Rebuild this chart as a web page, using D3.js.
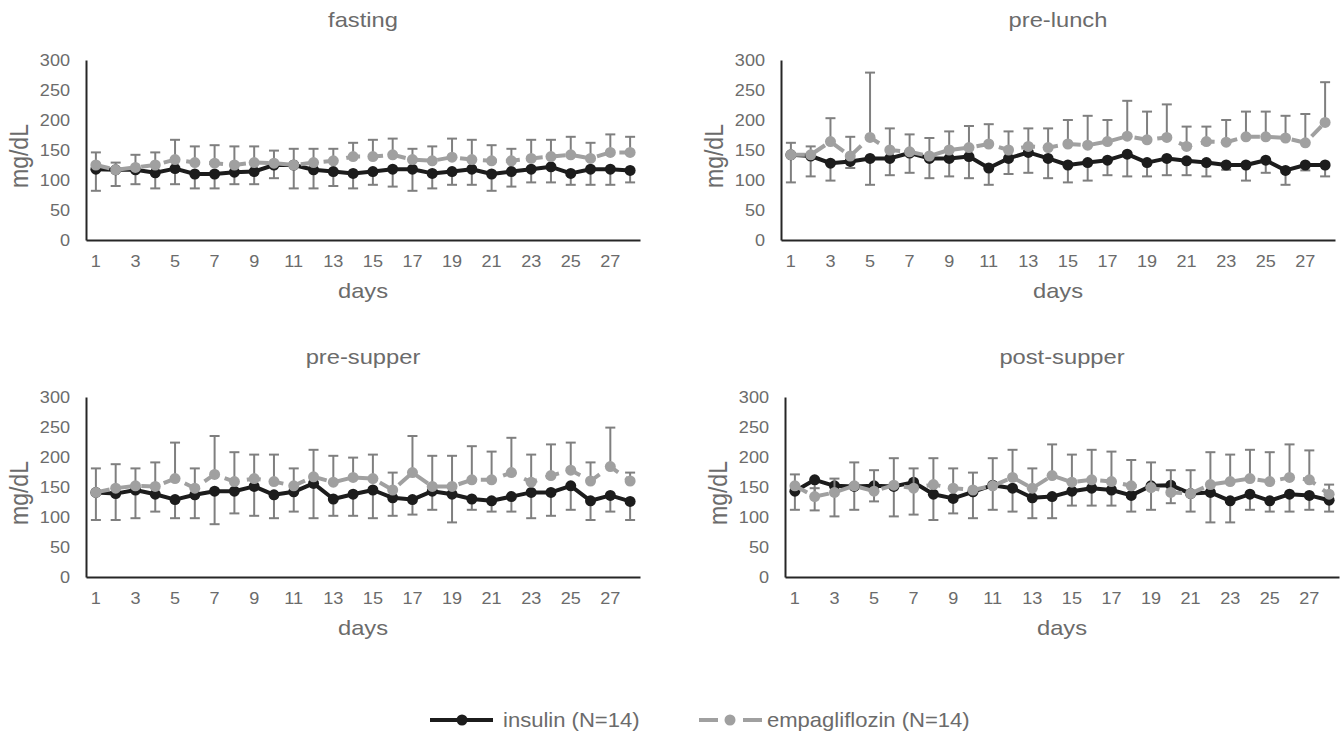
<!DOCTYPE html>
<html>
<head>
<meta charset="utf-8">
<script src="https://cdn.jsdelivr.net/npm/d3@7"></script>
<style>
  body { margin: 0; background: #fff; }
  svg text { font-family: "Liberation Sans", Arial, sans-serif; fill: #6b6b6b; }
</style>
</head>
<body>
<div id="chart"></div>
<script>
// categories and tick labels
var days = [1,2,3,4,5,6,7,8,9,10,11,12,13,14,15,16,17,18,19,20,21,22,23,24,25,26,27,28];
var xTickDays = [1,3,5,7,9,11,13,15,17,19,21,23,25,27];
var yTicks = [0,50,100,150,200,250,300];
var panelTitles = ["fasting", "pre-lunch", "pre-supper", "post-supper"];
var seriesNames = ["insulin (N=14)", "empagliflozin (N=14)"];

// fasting (mean, SD)
var fastingInsulin = [118,117,117,112,119,110,110,113,114,125,125,117,114,111,114,118,118,111,114,118,110,114,118,122,111,118,118,116];
var fastingInsulinSD = [36,27,24,26,26,24,24,20,21,22,39,31,24,25,22,29,36,25,22,26,28,25,22,26,19,26,26,20];
var fastingEmpa = [125,117,121,125,134,129,128,125,129,128,125,129,132,139,139,142,134,132,138,134,132,132,136,139,142,136,146,146];
var fastingEmpaSD = [21,12,21,21,33,27,30,31,27,21,27,23,20,23,28,27,18,24,31,33,26,20,31,28,30,26,30,26];

// pre-lunch
var lunchInsulin = [142,140,128,131,136,136,145,136,136,139,120,136,146,136,125,129,133,143,129,136,132,129,125,125,133,116,125,125];
var lunchInsulinSD = [46,34,29,11,44,28,33,33,30,36,28,26,34,33,29,30,25,37,23,28,24,23,8,26,21,24,9,19];
var lunchEmpa = [142,142,164,140,171,150,147,140,150,154,160,150,156,154,160,158,164,173,167,171,156,164,163,172,172,170,162,196];
var lunchEmpaSD = [20,14,39,32,108,36,29,30,31,36,33,31,30,32,40,49,36,59,47,55,33,25,37,42,42,37,48,67];

// pre-supper
var supperInsulin = [141,139,145,138,129,137,143,143,151,137,142,156,130,138,145,132,129,143,138,130,127,134,141,141,152,127,136,126];
var supperInsulinSD = [46,44,47,29,31,39,55,37,49,39,33,58,28,36,47,30,25,31,47,18,18,25,43,39,40,32,27,31];
var supperEmpa = [141,148,152,151,164,148,171,159,164,159,152,167,158,166,164,145,174,151,151,162,162,174,158,169,178,160,184,160];
var supperEmpaSD = [40,40,29,40,60,33,64,49,40,45,29,45,44,33,40,29,61,51,51,56,47,58,46,52,46,31,65,14];

// post-supper
var postInsulin = [143,162,152,151,152,151,158,138,131,142,153,148,132,134,143,148,145,136,152,153,139,141,127,138,127,138,136,128];
var postInsulinSD = [31,51,51,39,26,50,54,43,25,44,41,39,34,36,24,29,26,27,40,30,30,50,36,26,18,29,24,19];
var postEmpa = [152,134,141,152,143,153,148,154,148,145,152,166,148,169,158,162,159,152,149,141,139,154,159,164,159,166,162,138];
var postEmpaSD = [19,14,23,39,35,45,33,44,33,29,46,46,33,52,46,50,50,43,42,37,39,54,45,48,49,55,49,16];

var width = 1341, height = 735;
var plotW = 554, plotH = 180;
var S = 1.13; // text in the source is drawn a bit wide

var insColor = "#1c1c1c", empColor = "#a0a0a0", errColor = "#7f7f7f";

var svg = d3.select("#chart").append("svg")
    .attr("width", width)
    .attr("height", height);

var panels = [
  { title: panelTitles[0], left: 86,  top: 60,  ins: fastingInsulin, insSD: fastingInsulinSD, emp: fastingEmpa, empSD: fastingEmpaSD },
  { title: panelTitles[1], left: 781, top: 60,  ins: lunchInsulin,   insSD: lunchInsulinSD,   emp: lunchEmpa,   empSD: lunchEmpaSD },
  { title: panelTitles[2], left: 86,  top: 397, ins: supperInsulin,  insSD: supperInsulinSD,  emp: supperEmpa,  empSD: supperEmpaSD },
  { title: panelTitles[3], left: 785, top: 397, ins: postInsulin,    insSD: postInsulinSD,    emp: postEmpa,    empSD: postEmpaSD }
];

// widen text around its own anchor x
function widen(sel, s) {
  s = s || S;
  sel.each(function() {
    var t = d3.select(this);
    var x = +t.attr("x") || 0;
    t.attr("transform", "translate(" + x + ",0) scale(" + s + ",1) translate(" + (-x) + ",0)");
  });
}

function styleAxis(a) {
  a.attr("font-family", null).attr("font-size", null);
  a.select(".domain").attr("stroke", "#262626").attr("stroke-width", 2);
  a.selectAll("text").style("font-size", "16px").attr("fill", "#6b6b6b");
  widen(a.selectAll("text"));
}

// one series: error bars (up or down), line, markers
function drawSeries(g, x, y, means, sds, dir, color, dash) {
  var cx = function(i) { return x(days[i]) + x.bandwidth() / 2; };
  var eb = g.append("g");
  means.forEach(function(m, i) {
    var y0 = y(m), y1 = y(m + dir * sds[i]);
    eb.append("line").attr("x1", cx(i)).attr("x2", cx(i)).attr("y1", y0).attr("y2", y1)
      .attr("stroke", errColor).attr("stroke-width", 2);
    eb.append("line").attr("x1", cx(i) - 5).attr("x2", cx(i) + 5).attr("y1", y1).attr("y2", y1)
      .attr("stroke", errColor).attr("stroke-width", 2);
  });
  var line = d3.line()
    .x(function(d, i) { return cx(i); })
    .y(function(d) { return y(d); });
  g.append("path").datum(means)
    .attr("d", line)
    .attr("fill", "none")
    .attr("stroke", color)
    .attr("stroke-width", 4)
    .attr("stroke-dasharray", dash)
    .attr("stroke-linejoin", "round");
  g.selectAll(null).data(means).enter().append("circle")
    .attr("cx", function(d, i) { return cx(i); })
    .attr("cy", function(d) { return y(d); })
    .attr("r", 5.5)
    .attr("fill", color);
}

panels.forEach(function(p) {
  var g = svg.append("g").attr("transform", "translate(" + p.left + "," + p.top + ")");
  var x = d3.scaleBand().domain(days).range([0, plotW]);
  var y = d3.scaleLinear().domain([0, 300]).range([plotH, 0]);

  var xa = g.append("g").attr("transform", "translate(0," + plotH + ")")
    .call(d3.axisBottom(x).tickValues(xTickDays).tickSize(0).tickPadding(16));
  var ya = g.append("g")
    .call(d3.axisLeft(y).tickValues(yTicks).tickSize(0).tickPadding(16));
  styleAxis(xa);
  styleAxis(ya);

  drawSeries(g, x, y, p.ins, p.insSD, -1, insColor, null);
  drawSeries(g, x, y, p.emp, p.empSD, 1, empColor, "14,9");

  var tt = g.append("text")
    .attr("x", plotW / 2).attr("y", -33)
    .attr("text-anchor", "middle")
    .style("font-size", "21px")
    .text(p.title);
  var dt = g.append("text")
    .attr("x", plotW / 2).attr("y", plotH + 58)
    .attr("text-anchor", "middle")
    .style("font-size", "21px")
    .text("days");
  widen(tt);
  widen(dt);
  g.append("text")
    .attr("transform", "translate(-58," + (plotH / 2 + 6) + ") scale(" + S + ",1) rotate(-90)")
    .attr("text-anchor", "middle")
    .style("font-size", "23px")
    .text("mg/dL");
});

// legend
var lg = svg.append("g").attr("transform", "translate(0,720)");
lg.append("line").attr("x1", 430).attr("x2", 493).attr("y1", 0).attr("y2", 0)
  .attr("stroke", insColor).attr("stroke-width", 4);
lg.append("circle").attr("cx", 462).attr("cy", 0).attr("r", 5.5).attr("fill", insColor);
var l1 = lg.append("text").attr("x", 503).attr("y", 7).style("font-size", "21px").text(seriesNames[0]);

lg.append("line").attr("x1", 699).attr("x2", 762).attr("y1", 0).attr("y2", 0)
  .attr("stroke", empColor).attr("stroke-width", 4).attr("stroke-dasharray", "19,25");
lg.append("circle").attr("cx", 730).attr("cy", 0).attr("r", 5.5).attr("fill", empColor);
var l2 = lg.append("text").attr("x", 767).attr("y", 7).style("font-size", "21px").text(seriesNames[1]);
widen(l1, 1.05);
widen(l2, 1.05);
</script>
</body>
</html>
